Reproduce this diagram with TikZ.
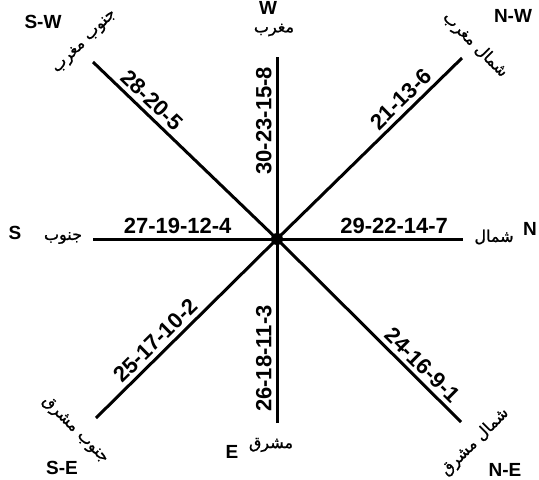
\documentclass[tikz,border=0pt]{standalone}
\usepackage{fontspec}
\setmainfont{Liberation Sans}
\newfontfamily\urdu[Script=Arabic, FakeBold=1]{DejaVu Sans}
\TeXXeTstate=1
\begin{document}
\begin{tikzpicture}[x=1pt,y=-1pt,
  axis/.style={line width=3pt},
  numlab/.style={font=\bfseries\fontsize{22}{22}\selectfont, inner xsep=0pt, inner ysep=4pt, anchor=south, sloped},
  dirlab/.style={font=\bfseries\fontsize{19}{19}\selectfont, inner sep=0pt},
  urlab/.style={font=\urdu\fontsize{16}{16}\selectfont, inner sep=0pt}]
\useasboundingbox (0,0) rectangle (539,480);
\node[circle, fill=black, inner sep=0pt, minimum size=12pt] (C) at (277,239) {};
\coordinate (Ntop) at (277,57);
\coordinate (Sbot) at (277,423);
\coordinate (Wl) at (93,239);
\coordinate (Er) at (463,239);
\coordinate (UL) at (93,62);
\coordinate (UR) at (462,58);
\coordinate (LL) at (96,418);
\coordinate (LR) at (461,422);
\draw[axis] (UL) -- node[numlab, pos=0.27] {28-20-5} (C.center);
\draw[axis] (C.center) -- node[numlab, pos=0.72] {21-13-6} (UR);
\draw[axis] (Wl) -- node[numlab, pos=0.46] {27-19-12-4} (C.center);
\draw[axis] (C.center) -- node[numlab, pos=0.63] {29-22-14-7} (Er);
\draw[axis] (C.center) -- node[numlab, pos=0.65] {30-23-15-8} (Ntop);
\draw[axis] (Sbot) -- node[numlab, pos=0.35] {26-18-11-3} (C.center);
\draw[axis] (LL) -- node[numlab, pos=0.38] {25-17-10-2} (C.center);
\draw[axis] (C.center) -- node[numlab, pos=0.74] {24-16-9-1} (LR);
% direction letters
\node[dirlab] (tSW) at (43,22) {S-W};
\node[dirlab] (tW) at (268,8) {W};
\node[dirlab] (tNW) at (513,16) {N-W};
\node[dirlab] (tS) at (15,233) {S};
\node[dirlab] (tN) at (530,229) {N};
\node[dirlab] (tSE) at (62,468) {S-E};
\node[dirlab] (tE) at (232,452) {E};
\node[dirlab] (tNE) at (505,470) {N-E};
% urdu labels
\node[urlab] (uW) at (274,30) {\beginR مغرب\endR};
\node[urlab] (uS) at (63,238) {\beginR جنوب\endR};
\node[urlab] (uN) at (494,237) {\beginR شمال\endR};
\node[urlab] (uE) at (271,445) {\beginR مشرق\endR};
\node[urlab, rotate=45] (uSW) at (85,42) {\beginR جنوب مغرب\endR};
\node[urlab, rotate=-45] (uNW) at (475,45) {\beginR شمال مغرب\endR};
\node[urlab, rotate=-45] (uSE) at (75,430) {\beginR جنوب مشرق\endR};
\node[urlab, rotate=45] (uNE) at (475,442) {\beginR شمال مشرق\endR};
\end{tikzpicture}
\end{document}
